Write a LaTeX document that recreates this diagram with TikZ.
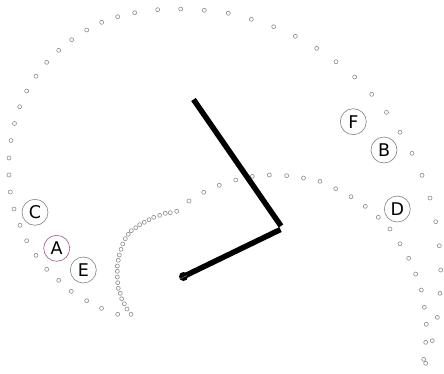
\documentclass[tikz,border=0pt]{standalone}
\usepackage{fontspec}
\setmainfont{DejaVu Sans}
\definecolor{dotgray}{RGB}{140,140,140}
\definecolor{ringgray}{RGB}{130,130,130}
\definecolor{ringpurple}{RGB}{160,80,160}
\tikzset{
  pathdot/.style={draw=dotgray,fill=white,line width=0.6pt},
  waypoint/.style={circle,draw=ringgray,fill=white,line width=0.6pt,minimum size=26pt,inner sep=0pt,font=\fontsize{17.5}{17.5}\selectfont},
  link/.style={line width=5.5pt}
}
\begin{document}
\begin{tikzpicture}[x=1pt,y=-1pt]
\useasboundingbox (0,0) rectangle (444,373);
% outer path
\foreach \x/\y in {117.7/314.3,101.5/308.3,86.7/300.7,71.3/291.3,58.7/280.3,46.7/269.3,
  36/255.3,26.7/240.7,20/225.3,14/209,10.3/192,9/175,9/158,11/140.5,14.5/123.5,
  19.7/106.7,26.7/91,36/76.3,46.7/62.3,58.7/50.3,71.7/39.7,86.7/30,101.7/22.3,
  117.7/16.7,134.7/12.7,157.7/9.7,180.7/9,204.3/10.3,228.3/13.3,251.3/19.3,
  273.7/26.7,295.3/36.3,316.7/48.3,336/61.7,354.7/77,371.7/94.3,386.5/112.3,
  400/132.3,412/153.3,422/175.3,430/198,435.7/221.7,439.3/245.7,440.7/270,
  440/293.3,437.3/317.3,432.3/340.7,425.7/363.3}
  \draw[pathdot] (\x,\y) circle[radius=2];
% inner path
\foreach \x/\y in {131/314.3,127/309,124.3/303.7,121.7/298.7,120.3/293.3,118.3/288.3,
  117.7/282.7,117.3/277,117.3/271.3,117.3/266,118.3/260.3,119.3/255,121/249.3,
  122.7/244,125.3/238.7,128.3/234.3,131.3/230.7,135.7/227.7,139.7/224.7,
  144.3/222.3,149/219.7,153.7/217.3,159.7/215.3,165.3/213.3,170.3/212.7,
  176.7/211.3,189/201,203.7/192.3,219.3/185.3,235.7/180,252.3/176.3,269.3/175,
  286.7/175.7,303.5/178,320/181.3,335.7/188.7,351/196.7,365.3/206.3,378.3/217.3,
  390/229,400/243.7,408.7/258.3,415.7/274,421.3/290,424.3/307.3,426.3/324.3,
  425.7/342.3,423.7/359.3}
  \draw[pathdot] (\x,\y) circle[radius=2];
% waypoints
\node[waypoint] (C) at (35,212.3) {C};
\node[waypoint,draw=ringpurple] (A) at (56.7,248.3) {A};
\node[waypoint] (E) at (83.3,270) {E};
\node[waypoint] (F) at (353.3,121.7) {F};
\node[waypoint] (B) at (384,150) {B};
\node[waypoint] (D) at (397.3,209) {D};
% arm
\coordinate (tip) at (193.5,99.5);
\coordinate (elbowA) at (281,226);
\coordinate (elbowB) at (280.5,229.5);
\coordinate (base) at (183.5,276.5);
\draw[link] (tip) -- (elbowA);
\draw[link] (elbowB) -- (base);
\fill (base) circle[radius=4.5];
\draw[gray,line width=0.4pt] (179.5,279) -- (187,275.5);
\end{tikzpicture}
\end{document}
